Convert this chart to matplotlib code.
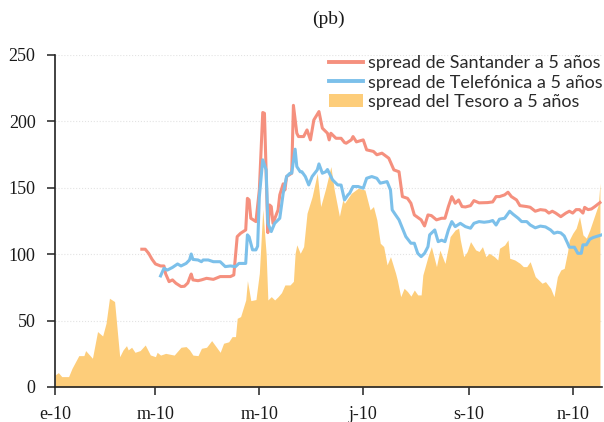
import matplotlib
matplotlib.use('Agg')
import matplotlib.pyplot as plt
import pandas as pd
from matplotlib.lines import Line2D
from matplotlib.patches import Patch

# Días desde el 1 de enero de 2010 y spread (pb)
dias_tesoro = [0, 2, 4, 8, 10, 14, 17, 18, 22, 25, 28, 30, 32, 35, 38, 40, 42, 43, 45, 47,
               50, 53, 56, 59, 60, 62, 65, 70, 74, 77, 79, 81, 84, 86, 89, 92, 97, 99, 102, 104,
               106, 107, 109, 112, 113, 115, 118, 120, 122, 124, 125, 127, 129, 131, 133, 135, 138, 140, 141, 142,
               144, 146, 148, 151, 154, 156, 159, 162, 164, 167, 169, 170, 174, 178, 182, 185, 187, 189, 191, 193,
               195, 197, 200, 201, 203, 205, 207, 209, 211, 213, 215, 216, 219, 221, 224, 226, 229, 231, 232, 235,
               237, 238, 240, 242, 244, 247, 249, 251, 253, 255, 258, 260, 261, 264, 266, 267, 270, 273, 275, 277,
               279, 282, 286, 288, 291, 293, 295, 297, 299, 301, 302, 304, 306, 308, 310, 312, 314, 317, 319, 320]
tesoro = [9, 10.8, 7.8, 7.8, 14, 23.6, 23.6, 27.4, 21.6, 41.7, 38.4, 48, 66.8, 64.3, 22.8, 27.9, 31.1, 27.9, 29.9, 26.1,
          27.4, 31.6, 24.1, 22.8, 26.1, 24, 25.3, 24, 29.9, 30.4, 27.9, 24, 23.6, 29.1, 29.9, 34.9, 26.1, 32.9, 34, 37.9,
          37.9, 51.7, 53, 65.5, 80, 65, 65.8, 85.6, 133.8, 100, 65.5, 68, 65.5, 68, 71, 76.8, 76.8, 79.5, 100.6, 107,
          100.6, 105.7, 130.8, 143.3, 160.9, 135.8, 149.7, 165.9, 148.3, 128.5, 140.8, 138.3, 145.8, 149.6, 148.3, 133.3, 135.8, 125.8, 108.2, 105.7,
          91.9, 98.1, 85.6, 80.6, 68, 74.3, 71.8, 68.4, 73, 69.3, 69.3, 84.3, 98.1, 105.6, 90.6, 103, 93, 105.6, 113.2, 118.2,
          119.5, 110.7, 98.1, 101.9, 109.4, 103.2, 102, 105.6, 98.1, 100.6, 98.1, 95.6, 104.4, 106.9, 110.7, 96.9, 95.6, 93.1, 90.6, 90.6,
          94.3, 83.1, 78.1, 79.3, 74.3, 68, 83, 88.1, 89.3, 101.9, 110.7, 115.7, 119.5, 128.2, 114.5, 112, 118.2, 129.5, 137, 153.4]

dias_santander = [51, 53, 55, 57, 59, 62, 64, 65, 67, 69, 71, 74, 76, 78, 79, 80, 81, 84, 86, 89,
                  93, 97, 103, 105, 107, 109, 112, 113, 114, 115, 118, 120, 122, 123, 125, 126, 127, 128, 131, 132,
                  134, 135, 136, 139, 140, 142, 143, 146, 148, 150, 152, 155, 157, 160, 161, 162, 165, 168, 170, 171,
                  174, 175, 177, 181, 183, 187, 189, 192, 196, 199, 202, 204, 207, 209, 211, 215, 217, 219, 221, 224,
                  227, 229, 231, 233, 235, 237, 239, 241, 244, 246, 249, 254, 257, 259, 261, 264, 266, 268, 271, 273,
                  277, 279, 282, 285, 288, 290, 292, 294, 297, 300, 302, 304, 306, 308, 310, 311, 313, 315, 317, 320]
santander = [103.7, 103.7, 100.6, 96.1, 92.6, 91.1, 91.1, 85.1, 79.3, 80.6, 78.1, 75.6, 75.8, 78.3, 81.8, 85, 80.6, 80, 80.6, 81.8,
             81, 83.1, 83.1, 84.3, 113.2, 115.7, 118.2, 142, 140.8, 127, 124.5, 148.3, 206.6, 206, 116.2, 137, 135.8, 123.2, 133.3, 144.6,
             152.9, 148.3, 158.4, 160.9, 212, 191, 188.5, 188.5, 193.5, 186, 201, 207.3, 194.8, 191, 186, 191, 187.2, 187.2, 184, 183.5,
             186, 188.5, 184.5, 186, 178.5, 177.3, 174.8, 176, 172.2, 163.4, 162, 143.3, 142, 138.3, 129.5, 125.8, 121.2, 129.5, 129, 125.8,
             127, 127, 135.8, 143.3, 138.3, 140.8, 135.8, 135.5, 136.5, 140.3, 138.6, 138.8, 139.3, 143.3, 143.3, 144.6, 146.6, 143.3, 140.8, 136.5,
             135.8, 135.3, 132.3, 133.5, 133, 130.9, 132.3, 130.9, 128.2, 130.9, 132.3, 130.9, 133.5, 133.5, 130.9, 135.2, 133.5, 134, 135.8, 138.8]

dias_telefonica = [62, 64, 66, 69, 72, 74, 77, 79, 80, 81, 84, 86, 87, 90, 93, 97, 100, 103, 106, 108,
                   112, 113, 114, 116, 118, 119, 120, 122, 124, 125, 127, 129, 132, 134, 136, 138, 139, 141, 142, 144,
                   145, 147, 149, 151, 154, 155, 157, 159, 160, 163, 166, 168, 170, 172, 173, 175, 178, 181, 183, 186,
                   189, 191, 195, 197, 198, 200, 202, 204, 206, 209, 211, 213, 215, 217, 219, 220, 223, 225, 227, 229,
                   231, 233, 235, 238, 241, 244, 246, 249, 252, 255, 257, 259, 261, 264, 267, 269, 272, 274, 277, 279,
                   282, 285, 288, 291, 293, 295, 297, 299, 301, 302, 305, 307, 309, 310, 312, 314, 316, 319, 321]
telefonica = [83.6, 89.3, 88, 90, 92.6, 91.1, 93, 95.6, 100.1, 96, 95.6, 94.3, 95.6, 95.6, 94.3, 94.3, 90.6, 91.1, 90.6, 93,
              93, 114.5, 113, 103.2, 103.2, 106, 143.3, 171, 163.4, 123.2, 117, 123.2, 127, 145.8, 158.4, 160.9, 160.9, 179, 165.9, 162,
              162, 158.4, 152.1, 158.4, 163.4, 167.9, 160.9, 162, 163.7, 155.9, 152.1, 152, 140.8, 144.6, 145.8, 150.9, 150.9, 149.6, 157.1, 158.4,
              157.1, 153.4, 154.6, 148.3, 133.3, 129.5, 125.8, 119.5, 113.2, 108.2, 108.2, 100.6, 98.1, 100.6, 105.6, 114.5, 118.2, 109.4, 110.5, 109.4,
              118.2, 124.5, 120.7, 123.2, 120.7, 119.5, 123.2, 124.5, 124, 124.5, 125.3, 121.9, 126.3, 127, 132.3, 130, 127, 124.5, 124.5, 122,
              119.8, 121.1, 120.5, 118.2, 115.7, 116.5, 116, 113.7, 108.2, 105.2, 105.2, 100.6, 100.6, 107, 107, 111.2, 112.5, 113.7, 114.5]

meses_ticks = ['2010-01-01', '2010-03-01', '2010-05-01', '2010-07-01', '2010-09-01', '2010-11-01']
etiquetas_x = ['e-10', 'm-10', 'm-10', 'j-10', 's-10', 'n-10']
ticks_y = [0, 50, 100, 150, 200, 250]

inicio = pd.Timestamp('2010-01-01')
def a_fecha(dias):
    return inicio + pd.to_timedelta(dias, unit='D')

rojo = '#F5907E'
azul = '#7CC0EA'
amarillo = '#FDCD7A'

fig = plt.figure(figsize=(6.04, 4.22), dpi=100)
ax = fig.add_axes([0.091, 0.083, 0.906, 0.787])

ax.fill_between(a_fecha(dias_tesoro), 0, tesoro, color=amarillo, linewidth=0)
ax.plot(a_fecha(dias_santander), santander, color=rojo, linewidth=2.2)
ax.plot(a_fecha(dias_telefonica), telefonica, color=azul, linewidth=2.2)

ax.set_ylim(0, 250)
ax.set_xlim(inicio, a_fecha(321.3))
ax.set_yticks(ticks_y)
ax.set_xticks(pd.to_datetime(meses_ticks))
ax.set_xticklabels(etiquetas_x)

fuente_ejes = 'Liberation Serif'
for lab in ax.get_xticklabels() + ax.get_yticklabels():
    lab.set_fontfamily(fuente_ejes)
    lab.set_fontsize(13)
    lab.set_color('#1a1a1a')

ax.tick_params(axis='both', direction='out', length=6, width=1.1, color='#222222')
ax.tick_params(axis='x', pad=8)
ax.tick_params(axis='y', pad=8)
ax.spines['top'].set_visible(False)
ax.spines['right'].set_visible(False)
for s in ('left', 'bottom'):
    ax.spines[s].set_linewidth(1.2)
    ax.spines[s].set_color('#222222')

ax.yaxis.grid(True, linestyle=':', color='#e3e3e3', linewidth=0.8)
ax.set_axisbelow(True)

fig.text(0.544, 0.955, '(pb)', ha='center', va='center', fontsize=14,
         family=fuente_ejes, color='#1a1a1a')

manejadores = [Line2D([], [], color=rojo, linewidth=2.8),
               Line2D([], [], color=azul, linewidth=2.8),
               Patch(facecolor=amarillo, edgecolor='none')]
textos = ['spread de Santander a 5 años', 'spread de Telefónica a 5 años', 'spread del Tesoro a 5 años']
leg = ax.legend(manejadores, textos, loc='upper left', bbox_to_anchor=(0.487, 1.02),
                frameon=False, prop={'family': 'Lato', 'size': 13},
                handlelength=1.9, handletextpad=0.3, labelspacing=0.18, borderaxespad=0)
for t in leg.get_texts():
    t.set_color('#2a2a2a')

fig.savefig('out.png', dpi=100)
